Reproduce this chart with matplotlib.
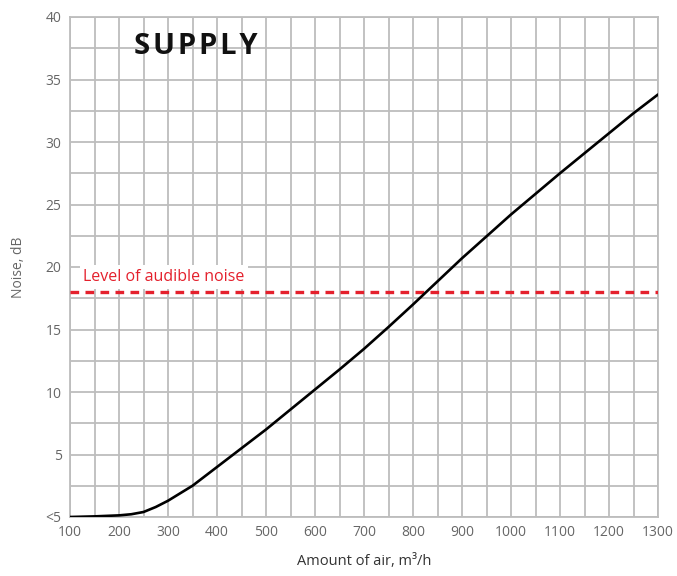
import matplotlib.pyplot as plt

# values
air = [100, 150, 200, 225, 250, 275, 300, 350, 400, 450, 500, 550, 600, 650,
       700, 750, 800, 850, 900, 950, 1000, 1050, 1100, 1150, 1200, 1250, 1300]
noise = [0.0, 0.05, 0.13, 0.22, 0.4, 0.8, 1.3, 2.5, 4.0, 5.5, 7.0, 8.6, 10.2, 11.8,
         13.45, 15.2, 17.0, 18.85, 20.7, 22.45, 24.2, 25.85, 27.5, 29.1, 30.7, 32.3, 33.8]
audible_level = 18
x_ticks = [100, 200, 300, 400, 500, 600, 700, 800, 900, 1000, 1100, 1200, 1300]
y_ticks = [0, 5, 10, 15, 20, 25, 30, 35, 40]
y_labels = ['<5', '5', '10', '15', '20', '25', '30', '35', '40']

plt.rcParams['font.family'] = ['Open Sans', 'DejaVu Sans']

fig = plt.figure(figsize=(6.77, 5.76), dpi=100)
ax = fig.add_axes([70 / 677, 1 - 517 / 576, 588 / 677, 500 / 576])

grid_c = '#bdbdbd'
for v in range(100, 1301, 50):
    ax.axvline(v, color=grid_c, lw=1.3, zorder=1)
for v in [i * 2.5 for i in range(17)]:
    ax.axhline(v, color=grid_c, lw=1.3, zorder=1)

ax.plot(air, noise, color='black', lw=1.9, zorder=4, solid_capstyle='round')
ax.axhline(audible_level, color='#e4202c', lw=2.4, ls=(0, (2.6, 1.9)), zorder=3)
ax.text(127, 19.2, 'Level of audible noise', color='#e4202c', fontsize=11.5,
        va='center', ha='left', zorder=2,
        bbox=dict(facecolor='white', edgecolor='none', pad=2.5))

ax.text(0.108, 0.94, '\u200a'.join('SUPPLY'), transform=ax.transAxes,
        fontsize=21, fontweight='bold', color='#111111', va='center', ha='left')

ax.set_xlim(100, 1300)
ax.set_ylim(0, 40)
ax.set_xticks(x_ticks)
ax.set_yticks(y_ticks)
ax.set_yticklabels(y_labels)
ax.tick_params(length=0, labelsize=10, labelcolor='#666666', pad=6)
for s in ax.spines.values():
    s.set_color(grid_c)
    s.set_linewidth(1.3)

ax.set_xlabel('Amount of air, m³/h', fontsize=10.5, color='#333333', labelpad=10)
ax.set_ylabel('Noise, dB', fontsize=10, color='#666666', labelpad=14)

plt.savefig('out.png', dpi=100)
